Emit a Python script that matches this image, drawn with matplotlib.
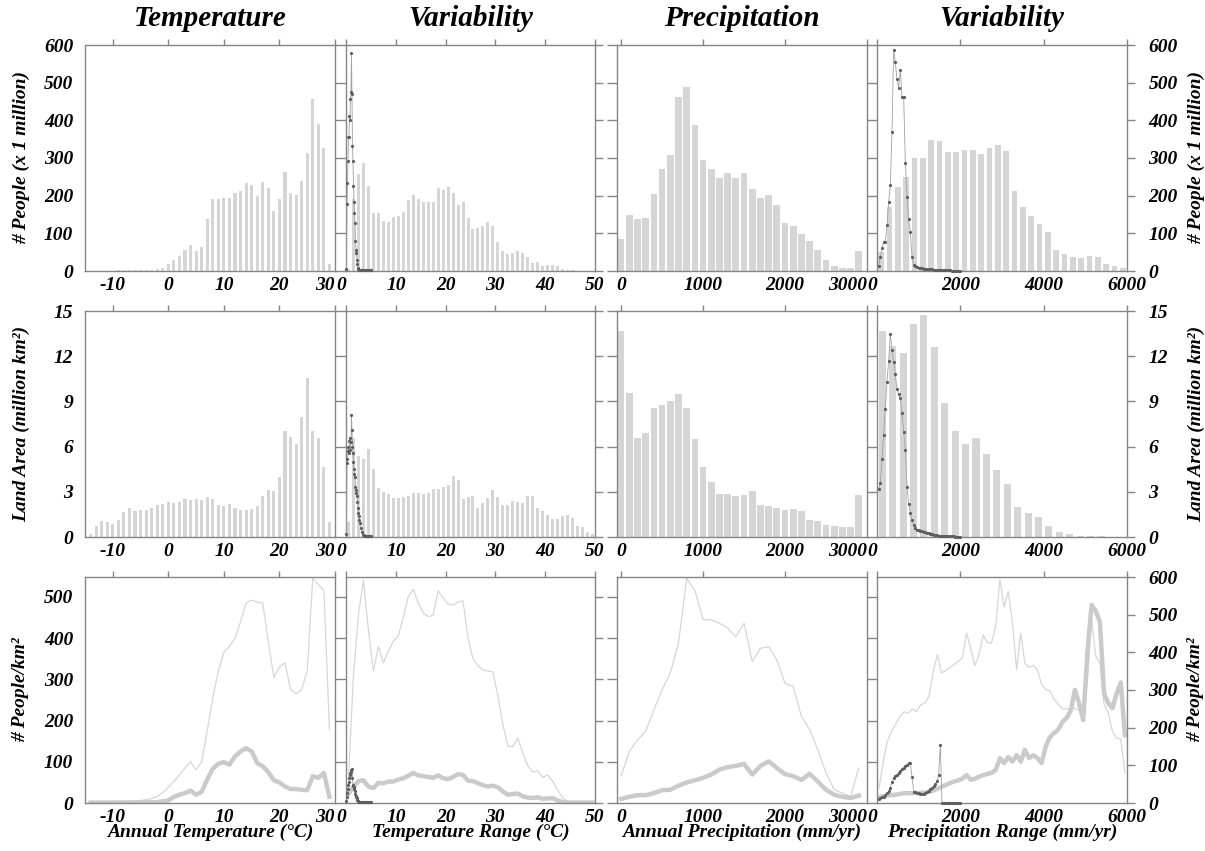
import numpy as np
import matplotlib
matplotlib.use("Agg")
import matplotlib.pyplot as plt

plt.rcParams['font.family'] = ['Liberation Serif', 'DejaVu Serif']
plt.rcParams['font.weight'] = 'bold'
plt.rcParams['font.style'] = 'italic'
plt.rcParams['axes.labelweight'] = 'bold'
plt.rcParams['axes.unicode_minus'] = False

# ---------------- data ----------------
# annual temperature, 1 degree bins
temp_bins = np.arange(-14, 30)
temp_pop = [0.5, 0.5, 0.5, 1, 1, 1.5, 2, 2, 2, 2.5, 3, 3, 5, 9,
            18, 29, 41, 56, 69, 54, 64, 139, 191, 191, 193, 195, 208, 212, 234, 228,
            200, 237, 221, 159, 191, 262, 207, 202, 240, 312, 456, 389, 326, 19]
temp_area = [0.2, 0.7, 1.04, 1.0, 0.86, 1.1, 1.63, 1.9, 1.72, 1.8, 1.8, 1.94, 2.12, 2.2,
             2.34, 2.27, 2.34, 2.54, 2.43, 2.54, 2.43, 2.65, 2.51, 2.14, 2.05, 2.18, 1.92, 1.76, 1.8, 1.87,
             2.07, 2.71, 3.13, 3.04, 4.01, 7.06, 6.64, 6.15, 7.99, 10.57, 7.06, 6.6, 4.65, 1.0]
temp_dens = [1, 1, 1, 1, 1.2, 1.3, 1.3, 1.2, 1.3, 1.4, 1.7, 1.8, 2.4, 4,
             6, 15, 20, 24, 30, 20, 27, 57, 83, 95, 99, 93, 113, 125, 133, 125,
             97, 89, 75, 55, 50, 40, 34, 34, 32, 31, 65, 61, 73, 15]
temp_dens_thin = [1, 1, 1, 2, 2, 3, 3, 4, 5, 6, 8, 11, 16, 25,
                  38, 52, 68, 85, 100, 80, 100, 175, 255, 320, 365, 380, 400, 440, 485, 492,
                  487, 485, 390, 305, 330, 340, 275, 265, 275, 320, 545, 530, 515, 180]

# temperature range, 1 degree bins
trange_bins = np.arange(0.5, 50, 1.0)
trange_pop = [5, 190, 258, 287, 226, 155, 155, 132, 131, 144, 146, 156, 189, 203, 191, 184, 184, 183, 220, 214,
              223, 208, 174, 183, 140, 112, 114, 119, 131, 120, 78, 54, 45, 47, 54, 47, 38, 20, 23, 14,
              16, 16, 13, 4, 3, 2, 1, 1, 0.5, 0.5]
trange_area = [1.0, 6.6, 5.4, 5.2, 5.85, 4.5, 3.25, 3.0, 2.87, 2.6, 2.6, 2.65, 2.75, 2.9, 2.9, 2.87, 2.9,
               3.18, 3.18, 3.3, 3.46, 4.08, 3.8, 2.5, 2.63, 2.7, 1.92, 2.25, 2.6, 3.13, 2.65, 2.14, 2.14,
               2.36, 2.32, 2.25, 2.74, 2.7, 1.92, 1.7, 1.48, 1.2, 1.2, 1.37, 1.43, 1.26, 0.7, 0.66, 0.33, 0.22]
trange_dens = [22, 40, 53, 55, 40, 36, 49, 48, 52, 52, 57, 60, 66, 73, 67, 65, 63, 61, 67, 60,
               58, 63, 70, 68, 54, 53, 48, 43, 40, 42, 38, 28, 20, 22, 23, 16, 13, 12, 14, 10,
               11, 12, 6, 2, 1, 1, 1, 1, 1, 1]
trange_dens_thin = [60, 310, 457, 540, 420, 320, 380, 340, 368, 392, 405, 450, 500, 518, 485, 461, 452,
                    455, 515, 497, 482, 480, 487, 490, 400, 350, 333, 322, 320, 318, 260, 190, 138, 137,
                    158, 120, 90, 75, 78, 62, 68, 53, 32, 12, 4, 2, 1, 1, 1, 1]

# temperature range, fine bins (dotted series)
trange_fine_x = [0.1, 0.2, 0.3, 0.4, 0.5, 0.6, 0.7, 0.8, 0.9, 1.0, 1.1, 1.2, 1.3, 1.4, 1.5, 1.6, 1.7,
                 1.8, 1.9, 2.0, 2.1, 2.2, 2.3, 2.4, 2.5, 2.6, 2.7, 2.8,
                 3.0, 3.2, 3.4, 3.6, 3.8, 4.0, 4.2, 4.4, 4.6, 4.8, 5.0]
trange_fine_pop = [4, 179, 233, 292, 355, 356, 412, 400, 457, 474, 578, 470, 332, 292, 225, 184, 154,
                   128, 80, 57, 47, 30, 18, 7, 4, 3, 2.5, 2.5,
                   2.5, 2, 2, 2, 2, 2, 1.8, 1.8, 1.6, 1.5, 1.5]
trange_fine_area = [0.2, 4.9, 5.2, 5.7, 6.0, 5.6, 6.4, 6.6, 5.8, 6.3, 8.1, 7.1, 6.0, 5.6, 5.0, 4.5, 4.2,
                    4.0, 3.35, 3.1, 2.9, 2.7, 2.3, 1.9, 1.6, 1.37, 1.1, 0.93,
                    0.6, 0.35, 0.15, 0.1, 0.08, 0.07, 0.06, 0.05, 0.05, 0.05, 0.05]
trange_fine_dens = [5, 15, 25, 35, 44, 52, 61, 68, 72, 75, 80, 83, 60, 44, 42, 40, 34,
                    28, 22, 17, 14, 12, 8, 6, 4, 3, 2.5, 2.5,
                    2, 2, 2, 2, 2, 2, 2, 2, 2, 2, 2]

# annual precipitation, 100 mm bins
precip_bins = np.arange(0, 3000, 100)
precip_pop = [86, 150, 137, 140, 205, 272, 309, 463, 488, 388, 294, 272, 247, 259, 247,
              259, 217, 194, 201, 175, 128, 119, 97, 79, 57, 29, 14, 9, 7, 54]
precip_area = [13.7, 9.53, 6.55, 6.88, 8.54, 8.76, 9.02, 9.46, 8.54, 6.49, 4.63, 3.62, 2.87, 2.87, 2.69,
               2.76, 3.02, 2.14, 2.03, 1.94, 1.81, 1.88, 1.7, 1.15, 1.04, 0.82, 0.75, 0.66, 0.64, 2.8]
precip_dens = [10, 15, 19, 19, 24, 31, 32, 42, 50, 55, 61, 69, 81, 87, 90,
               95, 69, 90, 101, 85, 70, 65, 56, 71, 52, 32, 20, 15, 12, 18]
precip_dens_thin = [65, 125, 153, 174, 226, 274, 315, 387, 545, 516, 445, 444, 436, 424, 403,
                    436, 343, 375, 379, 347, 290, 282, 210, 178, 129, 73, 32, 24, 16, 85]

# precipitation range
prange_pop_bins = np.arange(100, 6000, 200)
prange_pop = [51, 171, 224, 250, 299, 299, 347, 346, 317, 316, 320, 320, 310, 326, 334,
              319, 212, 171, 146, 126, 104, 56, 44, 38, 34, 40, 37, 19, 14, 7]
prange_area_bins = np.arange(125, 6000, 250)
prange_area = [13.67, 12.66, 12.21, 14.16, 14.76, 12.61, 8.89, 7.04, 6.15, 6.6, 5.54, 4.45,
               3.54, 2.02, 1.6, 1.33, 0.71, 0.31, 0.18, 0.09, 0.07, 0.04, 0.03, 0.02]
prange_line_x = np.arange(50, 6000, 100)
prange_dens = [15, 18, 20, 21, 22, 24, 26, 26, 26, 27, 27, 28, 30, 33, 38, 43, 48, 53, 57, 60,
               65, 74, 62, 64, 70, 74, 77, 80, 88, 119, 106, 122, 110, 127, 110, 141, 119, 127, 119, 106,
               150, 175, 186, 195, 215, 226, 245, 300, 265, 220, 400, 526, 510, 480, 290, 265, 252, 290, 320, 180]
prange_dens_thin = [40, 110, 165, 190, 210, 230, 242, 239, 250, 243, 261, 265, 285, 349, 393, 345, 352, 360, 368, 376,
                    385, 451, 410, 365, 395, 446, 425, 425, 470, 594, 520, 562, 480, 354, 451, 370, 360, 365, 354, 315,
                    301, 298, 275, 262, 250, 250, 248, 252, 245, 236, 330, 487, 390, 372, 261, 240, 190, 172, 170, 80]

# precipitation range, fine bins (dotted series)
prange_fine_x = np.arange(40, 2001, 40)
prange_fine_pop = [13, 38, 60, 76, 78, 122, 184, 228, 370, 587, 554, 509, 487, 534, 463, 463, 286, 197, 137, 103,
                   38, 16, 12, 10, 9, 8, 7, 6.5, 6, 5.5, 5, 4.5, 4, 3.8, 3.5, 3.2, 3, 2.8, 2.5, 2.3,
                   2, 1.8, 1.6, 1.5, 1.3, 1.2, 1.1, 1, 0.9, 0.8]
prange_fine_area = [3.2, 3.6, 5.2, 6.8, 8.5, 10.3, 11.7, 13.5, 12.4, 11.6, 10.8, 9.8, 9.5, 9.2, 8.2, 7.0, 5.8, 3.3,
                    2.2, 1.6, 1.1, 0.8, 0.58, 0.48, 0.45, 0.42, 0.38, 0.34, 0.3, 0.27, 0.24, 0.2, 0.17, 0.14,
                    0.12, 0.1, 0.09, 0.08, 0.07, 0.06, 0.06, 0.05, 0.05, 0.04, 0.04, 0.04, 0.03, 0.03, 0.03, 0.03]
prange_fine_dens = [10, 13, 15, 17, 21, 26, 31, 40, 55, 67, 72, 75, 80, 85, 89, 93, 98, 102, 105, 105,
                    70, 30, 28, 27, 26, 25, 25, 25, 27, 29, 33, 37, 41, 44, 50, 58, 75, 154,
                    0, 0, 0, 0, 0, 0, 0, 0, 0, 0, 0, 0]

col_titles = ['Temperature', 'Variability', 'Precipitation', 'Variability']
x_labels = ['Annual Temperature (°C)', 'Temperature Range (°C)',
            'Annual Precipitation (mm/yr)', 'Precipitation Range (mm/yr)']
y_labels = ['# People (x 1 million)', 'Land Area (million km²)', '# People/km²']

# ---------------- style ----------------
BAR = '#d5d5d5'
BOLD = '#cacaca'
THIN = '#d6d6d6'
DOT = '#5e5e5e'
DOT_LINE = '#a0a0a0'
SPINE = '#858585'
FS_TICK = 14
FS_LAB = 14
FS_TITLE = 21

W, H = 1205, 851
fig = plt.figure(figsize=(W / 100, H / 100), dpi=100)

col_left = [85, 346, 617, 877]
col_width = [250, 249, 250, 250]
row_top = [45, 311, 577]
row_h = 226

xlims = [(-15, 30), (0, 50), (-50, 3000), (0, 6000)]
xticks = [[-10, 0, 10, 20, 30], [0, 10, 20, 30, 40, 50], [0, 1000, 2000, 3000], [0, 2000, 4000, 6000]]
ytick_len = [8, 6, 7.5, 6]


def make_ax(r, c):
    ax = fig.add_axes([col_left[c] / W, 1 - (row_top[r] + row_h) / H, col_width[c] / W, row_h / H])
    for s in ax.spines.values():
        s.set_color(SPINE)
        s.set_linewidth(1.0)
    ax.set_xlim(*xlims[c])
    ax.set_xticks(xticks[c])
    ax.tick_params(axis='x', top=True, bottom=False, labeltop=False, labelbottom=True,
                   direction='out', length=4, width=1, color=SPINE, labelsize=FS_TICK, pad=0)
    if c == 0:
        ax.tick_params(axis='y', left=False, right=True, labelleft=True, labelright=False,
                       direction='out', length=ytick_len[c], width=1, color=SPINE, labelsize=FS_TICK, pad=0.5)
    elif c == 1:
        ax.tick_params(axis='y', left=False, right=True, labelleft=False, labelright=False,
                       direction='out', length=ytick_len[c], width=1, color=SPINE)
    elif c == 2:
        ax.tick_params(axis='y', left=True, right=True, labelleft=False, labelright=False,
                       direction='out', length=ytick_len[c], width=1, color=SPINE)
    else:
        ax.tick_params(axis='y', left=False, right=True, labelleft=False, labelright=True,
                       direction='out', length=ytick_len[c], width=1, color=SPINE, labelsize=FS_TICK, pad=9.5)
    return ax


def dots(ax, x, y):
    ax.plot(x, y, color=DOT_LINE, lw=0.6, marker='o', ms=2.3, mfc=DOT, mec=DOT, mew=0, zorder=4, clip_on=False)


axes = [[make_ax(r, c) for c in range(4)] for r in range(3)]

# row 1: population
a = axes[0]
a[0].bar(temp_bins, temp_pop, width=0.55, color=BAR, lw=0)
a[1].bar(trange_bins, trange_pop, width=0.6, color=BAR, lw=0)
dots(a[1], trange_fine_x, trange_fine_pop)
a[2].bar(precip_bins, precip_pop, width=82, color=BAR, lw=0)
a[3].bar(prange_pop_bins, prange_pop, width=140, color=BAR, lw=0)
dots(a[3], prange_fine_x, prange_fine_pop)
for ax in a:
    ax.set_ylim(0, 600)
    ax.set_yticks(range(0, 601, 100))

# row 2: land area
a = axes[1]
a[0].bar(temp_bins, temp_area, width=0.55, color=BAR, lw=0)
a[1].bar(trange_bins, trange_area, width=0.6, color=BAR, lw=0)
dots(a[1], trange_fine_x, trange_fine_area)
a[2].bar(precip_bins, precip_area, width=82, color=BAR, lw=0)
a[3].bar(prange_area_bins, prange_area, width=170, color=BAR, lw=0)
dots(a[3], prange_fine_x, prange_fine_area)
for ax in a:
    ax.set_ylim(0, 15)
    ax.set_yticks(range(0, 16, 3))

# row 3: population density
a = axes[2]
a[0].plot(temp_bins, temp_dens_thin, color=THIN, lw=0.9)
a[0].plot(temp_bins, temp_dens, color=BOLD, lw=3.2, solid_joinstyle='round')
a[1].plot(trange_bins, trange_dens_thin, color=THIN, lw=0.9)
a[1].plot(trange_bins, trange_dens, color=BOLD, lw=3.2, solid_joinstyle='round')
dots(a[1], trange_fine_x, trange_fine_dens)
a[2].plot(precip_bins, precip_dens_thin, color=THIN, lw=0.9)
a[2].plot(precip_bins, precip_dens, color=BOLD, lw=3.2, solid_joinstyle='round')
a[3].plot(prange_line_x, prange_dens_thin, color=THIN, lw=0.9)
a[3].plot(prange_line_x, prange_dens, color=BOLD, lw=3.2, solid_joinstyle='round')
dots(a[3], prange_fine_x, prange_fine_dens)
for ax in a[:3]:
    ax.set_ylim(0, 548)
    ax.set_yticks(range(0, 501, 100))
a[3].set_ylim(0, 600)
a[3].set_yticks(range(0, 601, 100))

# neighbouring panels: edge labels are pushed against the shared gap, as in the original
for r in range(3):
    for c in (0, 2):
        axes[r][c].get_xticklabels()[-1].set_horizontalalignment('right')
    for c in (1, 3):
        axes[r][c].get_xticklabels()[0].set_horizontalalignment('right')

for c in range(4):
    axes[2][c].set_xlabel(x_labels[c], fontsize=FS_LAB, fontweight='bold', labelpad=-1)
    cx = (col_left[c] + col_width[c] / 2) / W
    fig.text(cx, 1 - 18 / H, col_titles[c], ha='center', va='center', fontsize=FS_TITLE)

for r in range(3):
    cy = 1 - (row_top[r] + row_h / 2) / H
    fig.text(21 / W, cy, y_labels[r], rotation=90, ha='center', va='center', fontsize=FS_LAB)
    fig.text(1196 / W, cy, y_labels[r], rotation=90, ha='center', va='center', fontsize=FS_LAB)

fig.savefig('out.png', dpi=100)
